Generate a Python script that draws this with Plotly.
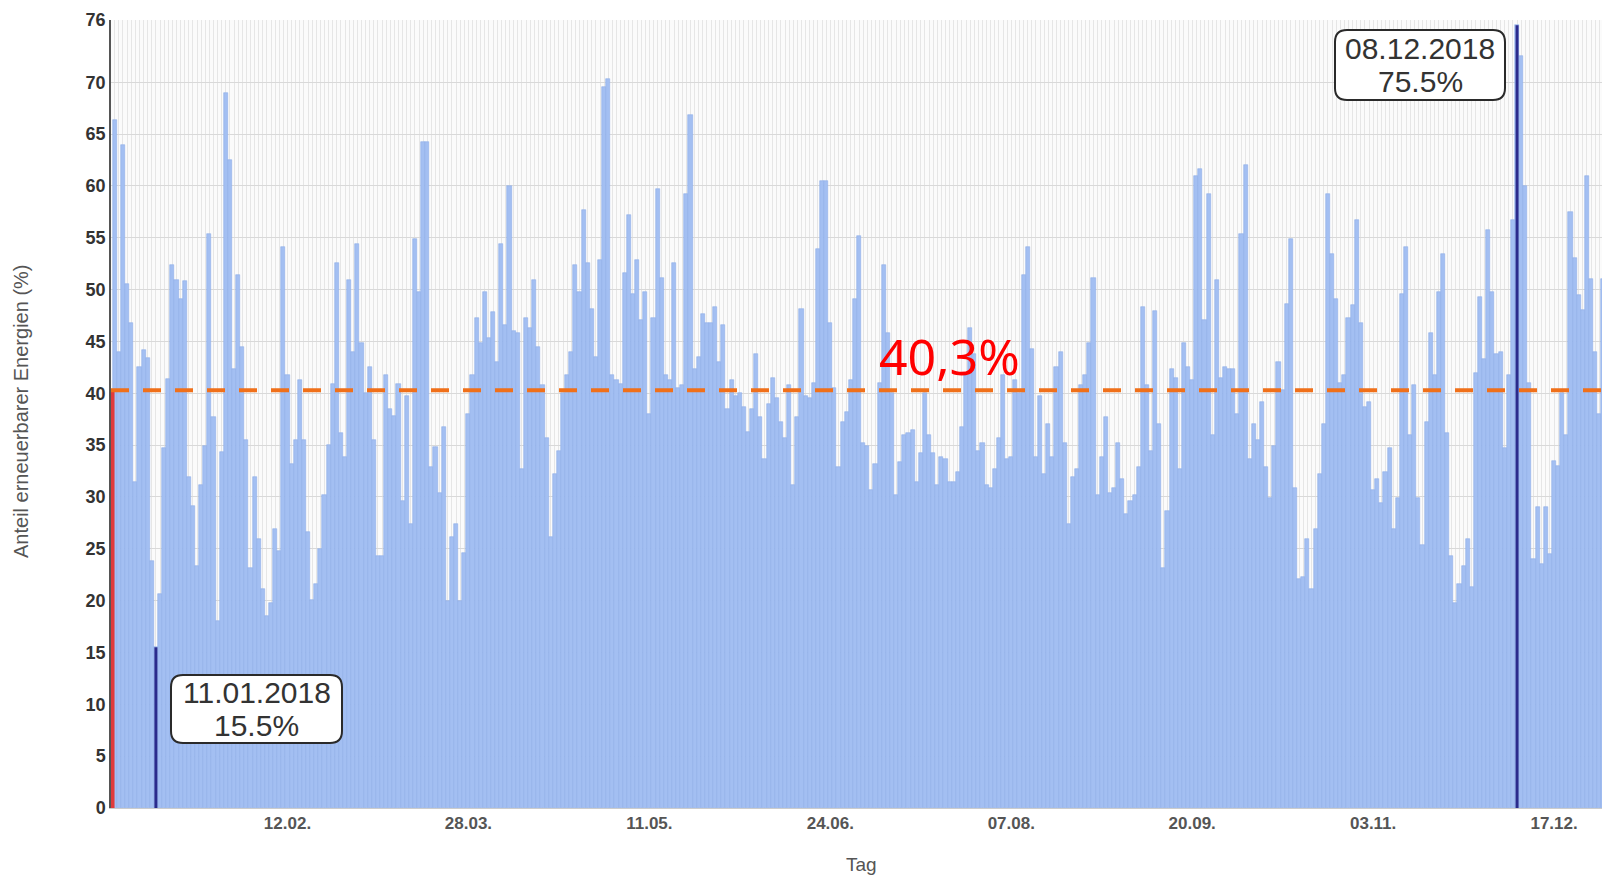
import numpy as np
import pandas as pd
import plotly.graph_objects as go

# Daily share of renewable energy (%) 2018
values = [
    66.4, 44.0, 63.9, 50.5, 46.8, 31.4, 42.5, 44.2, 43.4, 23.8,
    15.5, 20.6, 34.7, 41.4, 52.4, 50.9, 49.1, 50.8, 31.9, 29.1,
    23.3, 31.2, 34.9, 55.4, 37.7, 18.0, 34.3, 69.0, 62.5, 42.3,
    51.4, 44.5, 35.5, 23.1, 31.9, 25.9, 21.1, 18.5, 19.8, 26.9,
    24.8, 54.1, 41.8, 33.2, 35.5, 41.3, 35.5, 26.6, 20.1, 21.6,
    25.0, 30.2, 35.0, 40.9, 52.6, 36.2, 33.9, 50.9, 44.0, 54.4,
    44.8, 40.0, 42.5, 35.5, 24.3, 24.3, 41.8, 38.5, 37.8, 40.9,
    29.6, 39.7, 27.4, 54.9, 49.8, 64.2, 64.2, 32.9, 34.8, 30.4,
    36.7, 20.0, 26.1, 27.4, 20.0, 24.6, 38.0, 41.8, 47.3, 44.8,
    49.8, 45.3, 47.8, 43.0, 54.4, 46.6, 60.0, 46.0, 45.8, 32.7,
    47.3, 46.3, 50.9, 44.5, 40.8, 35.7, 26.1, 32.2, 34.4, 40.0,
    41.8, 44.0, 52.4, 49.8, 57.7, 52.6, 48.1, 43.5, 52.9, 69.5,
    70.3, 41.8, 41.3, 40.9, 51.6, 57.2, 49.6, 52.9, 47.1, 49.8,
    38.0, 47.3, 59.7, 51.1, 41.8, 41.3, 52.6, 40.5, 40.8, 59.2,
    66.8, 42.3, 43.5, 47.6, 46.8, 46.8, 48.3, 43.0, 46.6, 38.5,
    41.3, 39.7, 40.0, 38.7, 36.3, 38.5, 43.8, 37.7, 33.7, 39.0,
    41.5, 39.5, 37.2, 35.7, 40.8, 31.2, 37.7, 48.1, 39.7, 39.5,
    41.0, 53.9, 60.5, 60.5, 46.8, 40.5, 32.9, 37.2, 38.2, 41.3,
    49.1, 55.2, 35.2, 34.9, 30.7, 33.2, 41.0, 52.4, 45.8, 40.0,
    30.2, 33.4, 36.0, 36.2, 36.5, 31.4, 34.2, 40.0, 36.0, 34.2,
    31.2, 33.9, 33.7, 31.4, 31.4, 32.4, 36.7, 41.8, 46.3, 43.8,
    34.4, 35.2, 31.2, 30.9, 32.7, 35.7, 41.8, 33.7, 33.9, 41.3,
    40.0, 51.4, 54.1, 44.3, 33.9, 39.7, 32.2, 37.0, 33.9, 42.5,
    44.0, 35.2, 27.4, 31.9, 32.7, 40.8, 41.8, 44.8, 51.1, 30.2,
    33.9, 37.7, 30.4, 30.9, 35.2, 31.7, 28.4, 29.6, 30.2, 32.9,
    48.3, 40.8, 34.4, 47.9, 37.0, 23.1, 28.6, 42.3, 41.5, 32.7,
    44.8, 42.5, 41.3, 61.0, 61.6, 47.1, 59.2, 36.0, 50.9, 41.5,
    42.5, 42.3, 42.3, 38.0, 55.4, 62.0, 33.7, 37.0, 35.5, 39.2,
    32.9, 29.9, 34.9, 43.0, 40.3, 48.6, 54.9, 30.9, 22.1, 22.3,
    25.9, 21.1, 26.9, 32.2, 37.0, 59.2, 53.4, 49.1, 41.0, 41.8,
    47.3, 48.5, 56.7, 46.8, 38.7, 39.2, 30.7, 31.7, 29.4, 32.4,
    34.7, 26.9, 29.9, 49.6, 54.1, 36.0, 40.8, 29.9, 25.4, 37.2,
    45.8, 41.8, 49.8, 53.4, 36.2, 24.3, 19.8, 21.6, 23.3, 25.9,
    21.3, 42.0, 49.3, 43.3, 55.7, 49.8, 43.8, 44.0, 34.7, 41.8,
    56.7, 75.5, 72.5, 60.0, 41.0, 24.0, 29.0, 23.5, 29.0, 24.5,
    33.5, 33.0, 40.0, 36.0, 57.5, 53.0, 49.5, 48.0, 61.0, 51.0,
    44.0, 38.0, 51.0, 59.0, 50.0,
]
dates = pd.date_range("2018-01-01", periods=len(values), freq="D")

tick_dates = ["2018-02-12", "2018-03-28", "2018-05-11", "2018-06-24",
              "2018-08-07", "2018-09-20", "2018-11-03", "2018-12-17"]
tick_labels = ["12.02.", "28.03.", "11.05.", "24.06.",
               "07.08.", "20.09.", "03.11.", "17.12."]
y_ticks = [0, 5, 10, 15, 20, 25, 30, 35, 40, 45, 50, 55, 60, 65, 70, 76]

mean_value = 40.3
mean_label = "40,3%"

vals = np.array(values)
i_min, i_max = int(vals.argmin()), int(vals.argmax())
min_date, min_value = dates[i_min], vals[i_min]
max_date, max_value = dates[i_max], vals[i_max]

# ---- layout geometry (page pixels; the figure sits 8px in from the page corner) ----
OFF = 8
W, H = 1610 - OFF, 878 - OFF
ML, MR, MT, MB = 111 - OFF, 0, 20 - OFF, 70
PW, PH = W - ML - MR, H - MT - MB

def px(x):  # page x -> paper
    return (x - OFF - ML) / PW

def py(y):  # page y -> paper
    return (H - MB - (y - OFF)) / PH

x_start = pd.Timestamp("2018-01-01") - pd.Timedelta(hours=22)
x_end = pd.Timestamp("2018-01-01") + pd.Timedelta(days=363.6)

fig = go.Figure()

fig.add_trace(go.Bar(
    x=dates, y=values,
    marker=dict(color="#a3bff2", line=dict(color="#8eaee9", width=0.6)),
    hoverinfo="x+y", showlegend=False,
))

# highlighted min / max days
for d, v in [(min_date, min_value), (max_date, max_value)]:
    fig.add_trace(go.Scatter(
        x=[d, d], y=[0, v], mode="lines",
        line=dict(color="#2b2b8c", width=3), showlegend=False, hoverinfo="skip",
    ))

# red mark at axis start up to the mean
red_x = pd.Timestamp("2018-01-01") - pd.Timedelta(hours=13)
fig.add_trace(go.Scatter(
    x=[red_x, red_x], y=[0, mean_value], mode="lines",
    line=dict(color="#e03b3b", width=4), showlegend=False, hoverinfo="skip",
))

# mean line
fig.add_trace(go.Scatter(
    x=[x_start, x_end], y=[mean_value, mean_value], mode="lines",
    line=dict(color="#f0701a", width=4, dash="18px,14px"),
    showlegend=False, hoverinfo="skip",
))

fig.add_annotation(
    x=dates[203], y=43.6, xref="x", yref="y", text=mean_label,
    showarrow=False, font=dict(family="Noto Sans", size=50, color="#ff0000"),
    xanchor="center", yanchor="middle",
)

# rounded annotation boxes
def rounded_path(x0, y0, x1, y1, r):
    pts = lambda x, y: f"{px(x):.5f},{py(y):.5f}"
    return (f"M {pts(x0 + r, y0)} L {pts(x1 - r, y0)} Q {pts(x1, y0)} {pts(x1, y0 + r)} "
            f"L {pts(x1, y1 - r)} Q {pts(x1, y1)} {pts(x1 - r, y1)} "
            f"L {pts(x0 + r, y1)} Q {pts(x0, y1)} {pts(x0, y1 - r)} "
            f"L {pts(x0, y0 + r)} Q {pts(x0, y0)} {pts(x0 + r, y0)} Z")

boxes = [
    ((171, 675, 342, 743), min_date, min_value),
    ((1335, 30, 1505, 100), max_date, max_value),
]
for (x0, y0, x1, y1), d, v in boxes:
    fig.add_shape(type="path", path=rounded_path(x0, y0, x1, y1, 12),
                  xref="paper", yref="paper", fillcolor="white",
                  line=dict(color="#2a2a2a", width=2), layer="above")
    cx = (x0 + x1) / 2
    cy = (y0 + y1) / 2
    for text, dy in [(d.strftime("%d.%m.%Y"), -16.5), (f"{v:.1f}%", 16.5)]:
        fig.add_annotation(
            x=px(cx), y=py(cy + dy), xref="paper", yref="paper", text=text,
            showarrow=False, xanchor="center", yanchor="middle",
            font=dict(family="Liberation Sans", size=30, color="#333333"),
        )

# axis titles
fig.add_annotation(
    x=px(21), y=py(411), xref="paper", yref="paper",
    text="Anteil erneuerbarer Energien (%)", textangle=-90, showarrow=False,
    font=dict(family="Liberation Sans", size=20, color="#555555"),
    xanchor="center", yanchor="middle",
)
fig.add_annotation(
    x=px(862), y=py(864), xref="paper", yref="paper", text="Tag",
    showarrow=False, font=dict(family="Liberation Sans", size=19, color="#555555"),
    xanchor="center", yanchor="middle",
)

fig.update_layout(
    width=W, height=H,
    margin=dict(l=ML, r=MR, t=MT, b=MB),
    paper_bgcolor="white", plot_bgcolor="#fbfbfb",
    bargap=0,
    xaxis=dict(
        type="date", range=[x_start, x_end],
        tickmode="array", tickvals=tick_dates, ticktext=tick_labels,
        tickfont=dict(family="Liberation Sans", size=17, color="#555555", weight="bold"),
        showgrid=True, gridcolor="#e6e6e6", gridwidth=1,
        minor=dict(tickmode="linear", tick0="2018-01-01", dtick=86400000,
                   showgrid=True, gridcolor="#e6e6e6", gridwidth=1),
        showline=True, linecolor="#cccccc", ticks="", zeroline=False,
    ),
    yaxis=dict(
        range=[0, 76], tickmode="array", tickvals=y_ticks,
        tickfont=dict(family="Liberation Sans", size=18, color="#333333", weight="bold"),
        showgrid=True, gridcolor="#d9d9d9", gridwidth=1,
        showline=True, linecolor="#555555", linewidth=1.5, ticks="", zeroline=False,
    ),
)

fig.write_html("out.html")
